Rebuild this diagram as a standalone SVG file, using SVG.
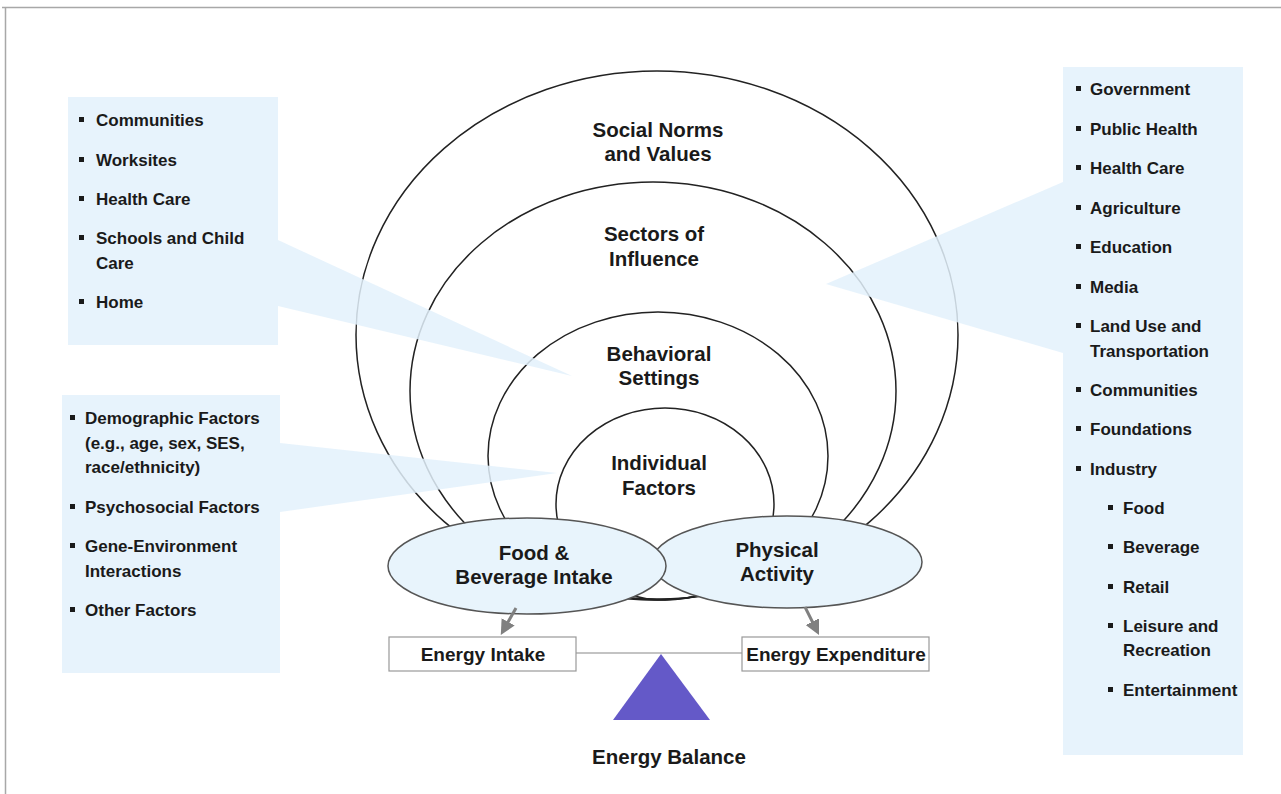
<svg xmlns="http://www.w3.org/2000/svg" width="1281" height="794" viewBox="0 0 1281 794">
<defs>
<style>
.t{font-family:"Liberation Sans",Arial,sans-serif;font-weight:bold;fill:#1a1a1a}
.b{font-size:17px}
.c{font-size:20.5px;text-anchor:middle}
.e{font-size:19px;text-anchor:middle}
.ring{fill:none;stroke:#222;stroke-width:1.5}
.call{fill:#e3f1fc;fill-opacity:0.85}
.oval{fill:#e8f4fc;stroke:#555;stroke-width:1.5}
.box{fill:#fff;stroke:#999;stroke-width:1.2}
.arr{stroke:#808080;stroke-width:3;fill:none}
</style>
<marker id="ah" viewBox="0 0 10 10" refX="7" refY="5" markerWidth="5" markerHeight="5" orient="auto"><path d="M0,0 L10,5 L0,10 Z" fill="#808080"/></marker>
</defs>
<rect x="0" y="0" width="1281" height="794" fill="#fff"/>
<path d="M2,7.5 H1281 M5.5,7 V794" stroke="#a8a8a8" stroke-width="1.5" fill="none"/>

<g id="rings">
<ellipse id="social-norms" class="ring" cx="657" cy="335" rx="301" ry="264"/>
<ellipse id="sectors" class="ring" cx="653" cy="391" rx="243" ry="209"/>
<ellipse id="behavioral" class="ring" cx="658" cy="456" rx="170" ry="144"/>
<ellipse id="individual" class="ring" cx="665" cy="504" rx="109" ry="96"/>
</g>

<g id="callout-settings">
<path class="call" d="M68,97 H278 V240 L572,376 L278,306 V345 H68 Z"/>
<g class="t b">
<rect x="79" y="117" width="5" height="5"/><text x="96" y="126">Communities</text>
<rect x="79" y="157" width="5" height="5"/><text x="96" y="166">Worksites</text>
<rect x="79" y="196" width="5" height="5"/><text x="96" y="205">Health Care</text>
<rect x="79" y="235" width="5" height="5"/><text x="96" y="244">Schools and Child</text>
<text x="96" y="269">Care</text>
<rect x="79" y="299" width="5" height="5"/><text x="96" y="308">Home</text>
</g>
</g>

<g id="callout-individual">
<path class="call" d="M62,395 H280 V443 L557,473 L280,512 V673 H62 Z"/>
<g class="t b">
<rect x="70" y="415" width="5" height="5"/><text x="85" y="424">Demographic Factors</text>
<text x="85" y="449">(e.g., age, sex, SES,</text>
<text x="85" y="473">race/ethnicity)</text>
<rect x="70" y="504" width="5" height="5"/><text x="85" y="513">Psychosocial Factors</text>
<rect x="70" y="543" width="5" height="5"/><text x="85" y="552">Gene-Environment</text>
<text x="85" y="577">Interactions</text>
<rect x="70" y="607" width="5" height="5"/><text x="85" y="616">Other Factors</text>
</g>
</g>

<g id="callout-sectors">
<path class="call" d="M1063,67 H1243 V755 H1063 V353 L826,284 L1063,182 Z"/>
<g class="t b">
<rect x="1076" y="86" width="5" height="5"/><text x="1090" y="95">Government</text>
<rect x="1076" y="126" width="5" height="5"/><text x="1090" y="135">Public Health</text>
<rect x="1076" y="165" width="5" height="5"/><text x="1090" y="174">Health Care</text>
<rect x="1076" y="205" width="5" height="5"/><text x="1090" y="214">Agriculture</text>
<rect x="1076" y="244" width="5" height="5"/><text x="1090" y="253">Education</text>
<rect x="1076" y="284" width="5" height="5"/><text x="1090" y="293">Media</text>
<rect x="1076" y="323" width="5" height="5"/><text x="1090" y="332">Land Use and</text>
<text x="1090" y="357">Transportation</text>
<rect x="1076" y="387" width="5" height="5"/><text x="1090" y="396">Communities</text>
<rect x="1076" y="426" width="5" height="5"/><text x="1090" y="435">Foundations</text>
<rect x="1076" y="466" width="5" height="5"/><text x="1090" y="475">Industry</text>
<rect x="1108" y="505" width="5" height="5"/><text x="1123" y="514">Food</text>
<rect x="1108" y="544" width="5" height="5"/><text x="1123" y="553">Beverage</text>
<rect x="1108" y="584" width="5" height="5"/><text x="1123" y="593">Retail</text>
<rect x="1108" y="623" width="5" height="5"/><text x="1123" y="632">Leisure and</text>
<text x="1123" y="656">Recreation</text>
<rect x="1108" y="687" width="5" height="5"/><text x="1123" y="696">Entertainment</text>
</g>
</g>

<g id="ring-labels" class="t c">
<text x="658" y="137">Social Norms</text>
<text x="658" y="161">and Values</text>
<text x="654" y="241">Sectors of</text>
<text x="654" y="266">Influence</text>
<text x="659" y="361">Behavioral</text>
<text x="659" y="385">Settings</text>
<text x="659" y="470">Individual</text>
<text x="659" y="495">Factors</text>
</g>

<g id="physical-activity">
<ellipse class="oval" cx="787" cy="562" rx="135" ry="46"/>
<text class="t c" x="777" y="557">Physical</text>
<text class="t c" x="777" y="581">Activity</text>
</g>
<g id="food-beverage">
<ellipse class="oval" cx="527" cy="566" rx="139" ry="48"/>
<text class="t c" x="534" y="560">Food &amp;</text>
<text class="t c" x="534" y="584">Beverage Intake</text>
</g>

<g id="connectors">
<line class="arr" x1="516" y1="608" x2="503" y2="631" marker-end="url(#ah)"/>
<line class="arr" x1="805" y1="607" x2="817" y2="631" marker-end="url(#ah)"/>
<line x1="576" y1="653" x2="742" y2="653" stroke="#888" stroke-width="1.2"/>
</g>

<g id="energy-intake">
<rect class="box" x="389" y="637" width="187" height="34"/>
<text class="t e" x="483" y="661">Energy Intake</text>
</g>
<g id="energy-expenditure">
<rect class="box" x="742" y="637" width="187" height="34"/>
<text class="t e" x="836" y="661">Energy Expenditure</text>
</g>
<g id="energy-balance">
<polygon points="661,654 613,720 710,720" fill="#6459c8"/>
<text class="t c" x="669" y="764">Energy Balance</text>
</g>
</svg>
